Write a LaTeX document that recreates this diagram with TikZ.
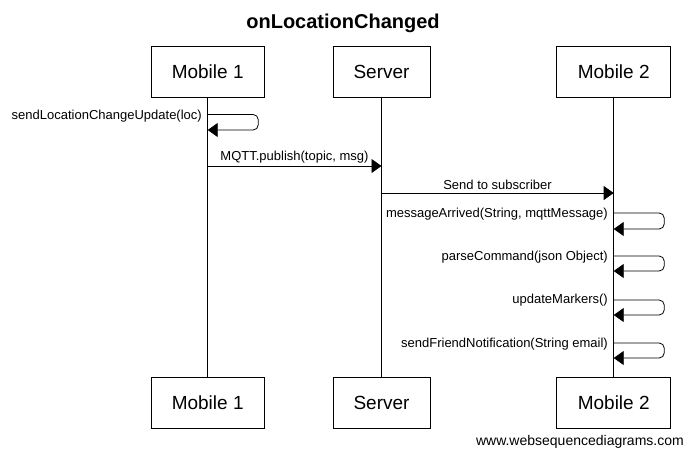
\documentclass[tikz,border=0pt]{standalone}
\usepackage{fontspec}
\setmainfont{Liberation Sans}
\usetikzlibrary{arrows.meta}
\begin{document}
\begin{tikzpicture}[x=1pt,y=-1pt,
  actor/.style={draw=black,line width=0.8pt,fill=white,inner sep=0pt,minimum height=51pt,font=\fontsize{19}{22}\selectfont},
  life/.style={draw=black,line width=0.8pt},
  msg/.style={draw=black,line width=0.8pt,-{Triangle[length=10pt,width=14pt]}},
  loopmsg/.style={msg,rounded corners=5pt},
  lbl/.style={font=\fontsize{13}{15}\selectfont,inner sep=0pt},
  title/.style={font=\bfseries\fontsize{20}{24}\selectfont,inner sep=0pt}]
\useasboundingbox (0,0) rectangle (685,451);
\node[title] (ttl) at (343,23) {onLocationChanged};
% actors
\node[actor,minimum width=113pt] (m1t) at (207.7,72) {Mobile 1};
\node[actor,minimum width=97pt] (svt) at (381.5,72) {Server};
\node[actor,minimum width=114pt] (m2t) at (613.7,72) {Mobile 2};
\node[actor,minimum width=113pt] (m1b) at (207.7,402.5) {Mobile 1};
\node[actor,minimum width=97pt] (svb) at (381.5,402.5) {Server};
\node[actor,minimum width=114pt] (m2b) at (613.7,402.5) {Mobile 2};
% lifelines
\draw[life] (m1t.south) -- (m1b.north);
\draw[life] (svt.south) -- (svb.north);
\draw[life] (m2t.south) -- (m2b.north);
% coordinates on lifelines
\coordinate (a1) at (207.7,114.5);
\coordinate (a1r) at (207.7,130);
\coordinate (a2) at (207.7,166);
\coordinate (b2) at (381.5,166);
\coordinate (b3) at (381.5,193);
\coordinate (c3) at (613.7,193);
\coordinate (c4) at (613.7,213);
\coordinate (c4r) at (613.7,229);
\coordinate (c5) at (613.7,256);
\coordinate (c5r) at (613.7,271);
\coordinate (c6) at (613.7,300);
\coordinate (c6r) at (613.7,315);
\coordinate (c7) at (613.7,343);
\coordinate (c7r) at (613.7,358);
% messages
\draw[loopmsg] (a1) -- ++(50.5,0) |- (a1r);
\node[lbl,anchor=east] (l1) at (202,116) {sendLocationChangeUpdate(loc)};
\draw[msg] (a2) -- (b2);
\node[lbl] (l2) at (294.5,157.5) {MQTT.publish(topic, msg)};
\draw[msg] (b3) -- (c3);
\node[lbl] (l3) at (497.5,185) {Send to subscriber};
\draw[loopmsg] (c4) -- ++(50.5,0) |- (c4r);
\node[lbl,anchor=east] (l4) at (608,214) {messageArrived(String, mqttMessage)};
\draw[loopmsg] (c5) -- ++(50.5,0) |- (c5r);
\node[lbl,anchor=east] (l5) at (608,257) {parseCommand(json Object)};
\draw[loopmsg] (c6) -- ++(50.5,0) |- (c6r);
\node[lbl,anchor=east] (l6) at (608,300) {updateMarkers()};
\draw[loopmsg] (c7) -- ++(50.5,0) |- (c7r);
\node[lbl,anchor=east] (l7) at (608,344) {sendFriendNotification(String email)};
\node[font=\fontsize{14}{16}\selectfont,inner sep=0pt,anchor=east] (wm) at (684,442) {www.websequencediagrams.com};
\end{tikzpicture}
\end{document}
